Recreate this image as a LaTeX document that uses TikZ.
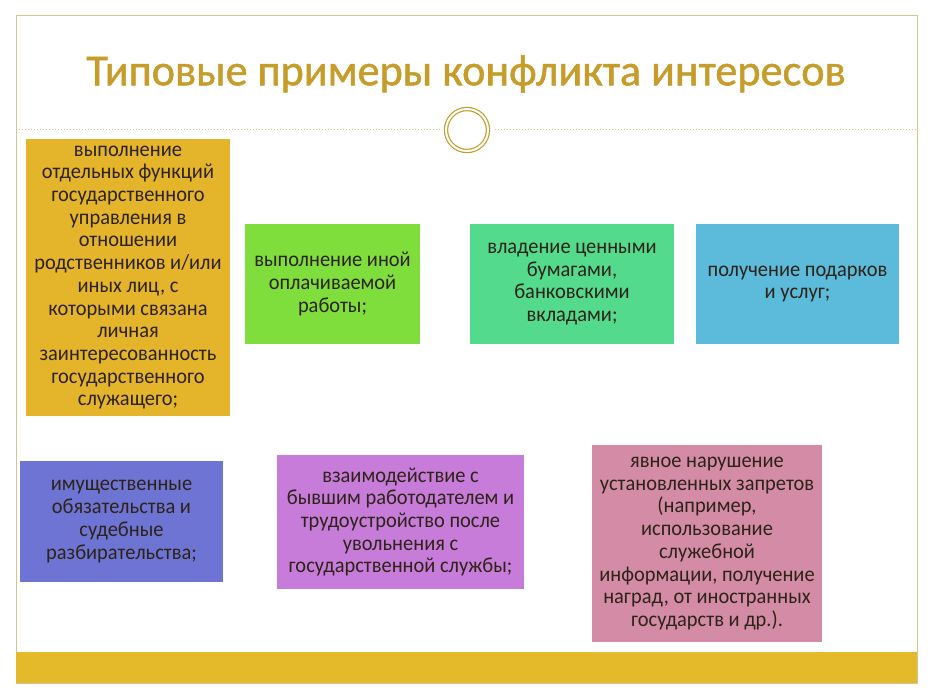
\documentclass[tikz,border=0pt]{standalone}
\usepackage{fontspec}
\setmainfont{Carlito}
\newfontfamily\boxfont[FakeStretch=0.95]{Carlito}
\newfontfamily\titlefont[FakeBold=1.2]{Carlito}

\definecolor{titlegold}{RGB}{198,157,42}
\definecolor{framegold}{RGB}{208,198,150}
\definecolor{bargold}{RGB}{228,186,42}
\definecolor{boxtext}{RGB}{45,35,25}
\definecolor{cyellow}{RGB}{228,180,42}
\definecolor{cgreen}{RGB}{128,222,60}
\definecolor{cteal}{RGB}{84,218,140}
\definecolor{cblue}{RGB}{92,186,218}
\definecolor{cindigo}{RGB}{110,116,212}
\definecolor{cviolet}{RGB}{200,124,218}
\definecolor{cpink}{RGB}{212,140,166}

\begin{document}
\begin{tikzpicture}[x=1pt,y=-1pt,
    item/.style={rectangle,inner sep=0pt,align=center,text=boxtext,
        font=\boxfont\fontsize{21.5}{22.7}\selectfont},
    title text/.style={font=\titlefont\fontsize{44.2}{50}\selectfont,text=titlegold}]

    \useasboundingbox[fill=white] (0,0) rectangle (933,700);

    % Frame and ornament
    \draw[framegold,line width=1pt] (16,16) rectangle (917,683);
    \fill[bargold] (16,652) rectangle (917,683);
    \node[title text] (title) at (466,74) {Типовые примеры конфликта интересов};
    \node[circle,draw=titlegold,double=white,double distance=2pt,line width=1.2pt,
        minimum size=42pt,inner sep=0pt] (ring) at (467,130) {};
    \coordinate (dl) at (16,130);
    \coordinate (dr) at (917,130);
    \draw[framegold,dotted,line width=1pt] (dl) -- ([xshift=-6pt]ring.west);
    \draw[framegold,dotted,line width=1pt] ([xshift=6pt]ring.east) -- (dr);

    % Upper row
    \node[item,fill=cyellow,minimum width=204pt,minimum height=277pt] (kin) at (128,277.5)
        {выполнение\\отдельных функций\\государственного\\управления в\\отношении\\родственников и/или\\иных лиц, с\\которыми связана\\личная\\заинтересованность\\государственного\\служащего;};
    \node[item,fill=cgreen,minimum width=175pt,minimum height=120pt] (work) at (332.5,284)
        {выполнение иной\\оплачиваемой\\работы;};
    \node[item,fill=cteal,minimum width=204pt,minimum height=120pt] (stock) at (572,284)
        {владение ценными\\бумагами,\\банковскими\\вкладами;};
    \node[item,fill=cblue,minimum width=203pt,minimum height=120pt] (gift) at (797.5,284)
        {получение подарков\\и услуг;};

    % Lower row
    \node[item,fill=cindigo,minimum width=203pt,minimum height=121pt] (prop) at (121.5,521.5)
        {имущественные\\обязательства и\\судебные\\разбирательства;};
    \node[item,fill=cviolet,minimum width=247pt,minimum height=134pt] (employer) at (400.5,522)
        {взаимодействие с\\бывшим работодателем и\\трудоустройство после\\увольнения с\\государственной службы;};
    \node[item,fill=cpink,minimum width=230pt,minimum height=197pt] (ban) at (707,543.5)
        {явное нарушение\\установленных запретов\\(например,\\использование\\служебной\\информации, получение\\наград, от иностранных\\государств и др.).};

\end{tikzpicture}
\end{document}
